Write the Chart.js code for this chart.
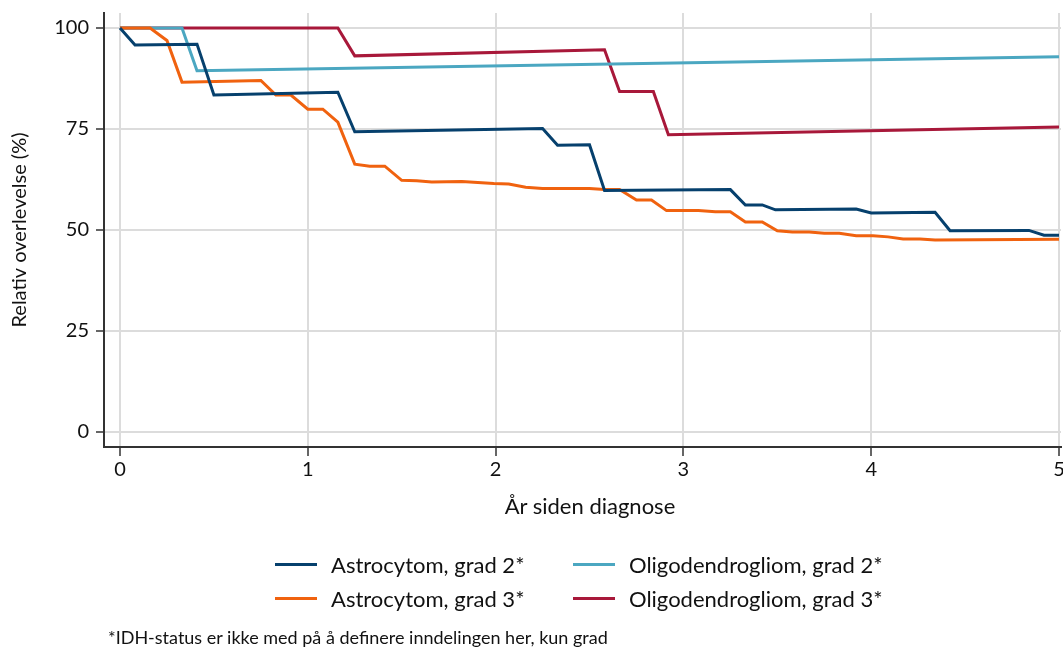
<!DOCTYPE html>
<html>
<head>
<meta charset="utf-8">
<script src="https://cdn.jsdelivr.net/npm/chart.js@4"></script>
<style>
  html, body { margin: 0; padding: 0; background: #fff; overflow: hidden; }
  #wrap { position: relative; width: 1063px; height: 648px; overflow: hidden; font-family: Lato, "Open Sans", sans-serif; color: #111; }
  #chart { position: absolute; left: 0; top: 0; }
  #xtitle { position: absolute; left: 440px; width: 300px; top: 493px; line-height: 26px; text-align: center; font-size: 22px; }
  .leg { position: absolute; display: flex; align-items: center; font-size: 22px; white-space: nowrap; }
  .leg span.sw { display: inline-block; width: 42px; height: 3px; margin-right: 14px; }
  #note { position: absolute; left: 108px; top: 626px; font-size: 18px; white-space: nowrap; }
</style>
</head>
<body>
<div id="wrap">
  <canvas id="chart" width="1063" height="648"></canvas>
  <div id="xtitle">År siden diagnose</div>
  <div id="legend"></div>
  <div id="note">*IDH-status er ikke med på å definere inndelingen her, kun grad</div>
</div>
<script>
// Serier (år siden diagnose, relativ overlevelse i %)
const labels = ["Astrocytom, grad 2*", "Astrocytom, grad 3*", "Oligodendrogliom, grad 2*", "Oligodendrogliom, grad 3*"];
const colors = ["#06406d", "#f0620f", "#4ba7c1", "#a8183a"];

const astro2X = [0, 0.08, 0.41, 0.50, 1.16, 1.25, 2.25, 2.33, 2.50, 2.58, 3.25, 3.33, 3.42, 3.49, 3.92, 4.00, 4.34, 4.42, 4.84, 4.92, 5.00];
const astro2Y = [100, 95.8, 96.0, 83.4, 84.1, 74.3, 75.1, 71.0, 71.1, 59.8, 60.0, 56.2, 56.2, 55.0, 55.2, 54.2, 54.4, 49.8, 49.9, 48.7, 48.7];

const astro3X = [0, 0.16, 0.25, 0.33, 0.75, 0.83, 0.91, 1.00, 1.08, 1.16, 1.25, 1.33, 1.41, 1.50, 1.58, 1.66, 1.82, 1.99, 2.07, 2.16, 2.25, 2.50, 2.58, 2.66, 2.75, 2.83, 2.91, 3.08, 3.17, 3.25, 3.33, 3.42, 3.50, 3.58, 3.67, 3.75, 3.83, 3.92, 4.01, 4.09, 4.17, 4.26, 4.34, 5.00];
const astro3Y = [100, 100, 96.9, 86.6, 87.0, 83.4, 83.4, 79.9, 79.9, 76.7, 66.3, 65.8, 65.8, 62.3, 62.2, 61.9, 62.0, 61.5, 61.4, 60.6, 60.3, 60.3, 60.0, 60.0, 57.4, 57.4, 54.8, 54.8, 54.5, 54.5, 52.0, 52.0, 49.8, 49.5, 49.5, 49.2, 49.2, 48.6, 48.6, 48.3, 47.8, 47.8, 47.5, 47.7];

const oligo2X = [0, 0.33, 0.41, 5.00];
const oligo2Y = [100, 100, 89.4, 92.9];

const oligo3X = [0, 1.16, 1.25, 2.58, 2.66, 2.84, 2.92, 5.00];
const oligo3Y = [100, 100, 93.1, 94.6, 84.3, 84.3, 73.6, 75.5];

const xTicks = [0, 1, 2, 3, 4, 5];
const yTicks = [0, 25, 50, 75, 100];

const seriesX = [astro2X, astro3X, oligo2X, oligo3X];
const seriesY = [astro2Y, astro3Y, oligo2Y, oligo3Y];

function points(xs, ys) {
  return xs.map(function(x, i) { return { x: x, y: ys[i] }; });
}

const datasets = labels.map(function(lab, i) {
  return {
    label: lab,
    data: points(seriesX[i], seriesY[i]),
    borderColor: colors[i],
    backgroundColor: colors[i],
    borderWidth: 3,
    pointRadius: 0,
    tension: 0,
    fill: false
  };
});

const font = { family: "Lato, 'Open Sans', sans-serif", size: 20 };

// ingen automatisk luft rundt aksene, plottet skal fylle som i originalen
function noPad(scale) {
  scale.paddingTop = 0;
  scale.paddingBottom = 0;
  scale.paddingLeft = 0;
  scale.paddingRight = 0;
}

new Chart(document.getElementById("chart"), {
  type: "line",
  data: { datasets: datasets },
  options: {
    responsive: false,
    animation: false,
    layout: { autoPadding: false, padding: { top: 13, right: 2, left: 0, bottom: 165 } },
    plugins: { legend: { display: false }, tooltip: { enabled: false } },
    scales: {
      x: {
        type: "linear",
        min: -0.0852,
        max: 5.0106,
        afterBuildTicks: function(scale) { scale.ticks = xTicks.map(function(v) { return { value: v }; }); },
        afterFit: function(scale) { noPad(scale); scale.height = 36; },
        ticks: { color: "#111", font: font, padding: 2, maxRotation: 0 },
        grid: { color: "#dcdcdc", lineWidth: 2, tickColor: "#333", tickLength: 9, tickWidth: 1.5 },
        border: { color: "#333", width: 2 }
      },
      y: {
        type: "linear",
        min: -3.71,
        max: 103.71,
        afterBuildTicks: function(scale) { scale.ticks = yTicks.map(function(v) { return { value: v }; }); },
        afterFit: function(scale) { noPad(scale); scale.width = 104; },
        ticks: { color: "#111", font: font, padding: 7 },
        grid: { color: "#dcdcdc", lineWidth: 2, tickColor: "#333", tickLength: 8, tickWidth: 1.5 },
        border: { color: "#333", width: 2 },
        title: { display: true, text: "Relativ overlevelse (%)", color: "#111", font: font, padding: { top: 8, bottom: 0 } }
      }
    }
  }
});

// Forklaring, to kolonner
const legendPos = [[275, 564], [275, 598], [573, 564], [573, 598]];
const legend = document.getElementById("legend");
labels.forEach(function(lab, i) {
  const d = document.createElement("div");
  d.className = "leg";
  d.style.left = legendPos[i][0] + "px";
  d.style.top = (legendPos[i][1] - 13) + "px";
  d.style.height = "26px";
  d.innerHTML = '<span class="sw" style="background:' + colors[i] + '"></span>' + lab;
  legend.appendChild(d);
});
</script>
</body>
</html>
